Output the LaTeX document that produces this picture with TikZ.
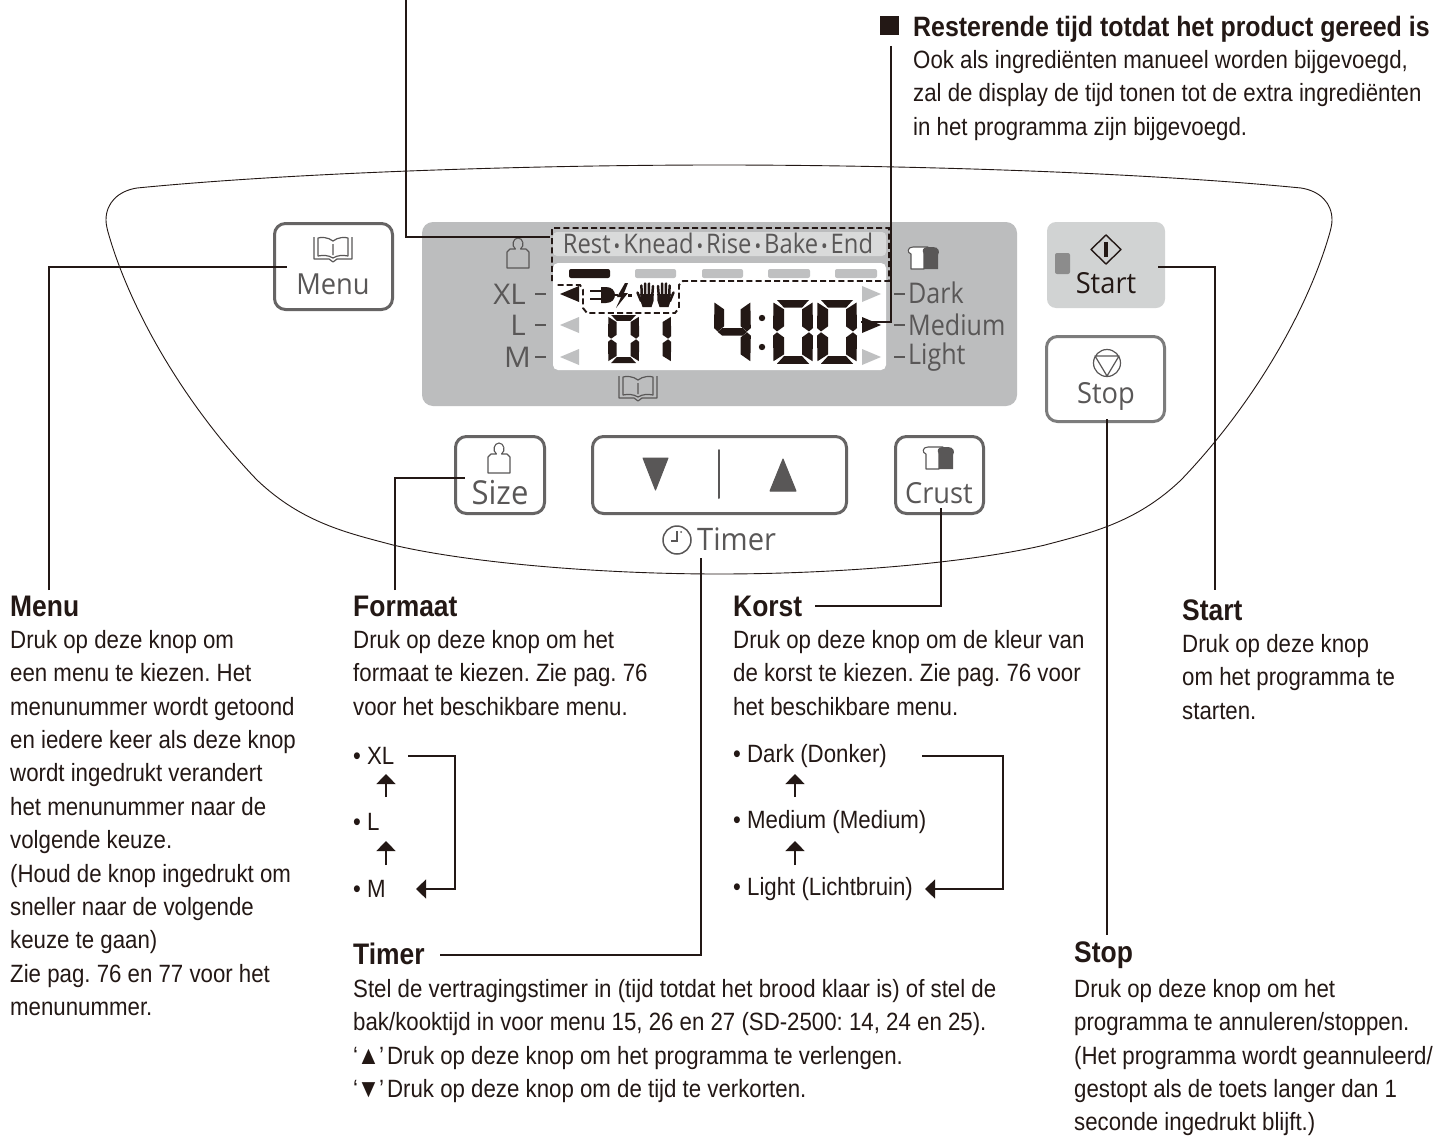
\documentclass[tikz,border=0pt]{standalone}
\usepackage{fontspec}
\setmainfont{Liberation Sans}[FakeStretch=0.89]
\newfontfamily\panelfont{Open Sans}[FakeStretch=0.88]
\newfontfamily\panelwide{Open Sans}[FakeStretch=1.04]
\newfontfamily\btnfont{Open Sans}[FakeStretch=0.94]
\usetikzlibrary{arrows.meta}
\definecolor{ink}{HTML}{231815}
\definecolor{pgray}{HTML}{BCBDBE}
\definecolor{stripgray}{HTML}{D9DADA}
\definecolor{startgray}{HTML}{D1D3D3}
\definecolor{ledgray}{HTML}{8C8C8C}
\definecolor{ptext}{HTML}{595757}
\definecolor{btn}{HTML}{666464}
\definecolor{stopbtncol}{HTML}{7C7C7C}
\definecolor{tri}{HTML}{BFC0C1}
\tikzset{
  x=1pt,y=-1pt,
  body/.style={anchor=west,inner sep=0pt,align=left,text=ink,font=\frenchspacing\fontsize{25}{33.4}\selectfont},
  head/.style={anchor=west,inner sep=0pt,text=ink,font=\fontsize{29.7}{33}\selectfont\bfseries},
  conn/.style={draw=ink,line width=1.5pt},
  button/.style={draw=btn,line width=3pt,rounded corners=11pt,fill=white,inner sep=0pt},
  ptxt/.style={inner sep=0pt,text=ptext,font=\panelfont\fontsize{28.5}{33}\selectfont},
  btxt/.style={inner sep=0pt,anchor=base,text=ptext,font=\btnfont\fontsize{29}{33}\selectfont},
  ic/.style={draw=ptext,line width=1.1pt,fill=white,line join=round},
  seg/.style={fill=ink,draw=none},
  dash1/.style={draw=ink,line width=1.9pt,dash pattern=on 6pt off 3.2pt},
  bk/.style={draw=ptext,line width=1.2pt,line join=round},
  arr/.style={conn,line width=1.3pt,-{Triangle[length=10pt,width=19pt]}},
  finger/.style={draw=ink,line width=2.5pt,line cap=round},
}
\newcommand\segT{\fill[seg] (4,0)--(36,0)--(29,9)--(11,9)--cycle;}
\newcommand\segB{\fill[seg] (4,75)--(36,75)--(29,66)--(11,66)--cycle;}
\newcommand\segUL{\fill[seg] (.5,3)--(11,11)--(11,31)--(4,37)--(0,33)--cycle;}
\newcommand\segUR{\fill[seg] (39.5,3)--(29,11)--(29,31)--(36,37)--(40,33)--cycle;}
\newcommand\segLL{\fill[seg] (.5,72)--(11,64)--(11,44)--(4,38)--(0,42)--cycle;}
\newcommand\segLR{\fill[seg] (39.5,72)--(29,64)--(29,44)--(36,38)--(40,42)--cycle;}
\newcommand\segM{\fill[seg] (4,37.5)--(9,33)--(31,33)--(36,37.5)--(31,42)--(9,42)--cycle;}
\newcommand\dgtzero{\segT\segB\segUL\segUR\segLL\segLR}
\newcommand\weighticon[3]{\begin{scope}[shift={(#1,#2)},scale=#3]
 \draw[ic,fill=none] (-11,30)--(-11,14)--(-8,11)--(-2.5,11) .. controls (-7,8) and (-5,0) .. (0,0) .. controls (5,0) and (7,8) .. (2.5,11)--(8,11)--(11,14)--(11,30)--cycle;
 \end{scope}}
\newcommand\breadicon[3]{\begin{scope}[shift={(#1,#2)},scale=#3]
 \draw[ic,fill=white] (-12,22)--(-12,7) .. controls (-16,6) and (-16,0) .. (-10,0)--(5,0)--(1,6)--(1,22)--cycle;
 \fill[ptext] (1,22)--(1,7) .. controls (-1,4) and (-1,0) .. (5,0)--(10,0) .. controls (16,0) and (17,5) .. (15,8)--(15,22)--cycle;
 \end{scope}}
\newcommand\bookicon[3]{\begin{scope}[shift={(#1,#2)},scale=#3]
 \draw[bk] (0,5) .. controls (-5,1) and (-12,1) .. (-15,2)--(-15,20) .. controls (-10,19) and (-5,19) .. (0,22) .. controls (5,19) and (10,19) .. (15,20)--(15,2) .. controls (12,1) and (5,1) .. (0,5)--cycle (0,8)--(0,19);
 \draw[bk] (-19,1)--(-19,23)--(-4,23)--(0,26)--(4,23)--(19,23)--(19,1);
 \end{scope}}
\newcommand\handicon[3]{\begin{scope}[shift={(#1,#2)},xscale=#3]
 \fill[ink] (-6.8,12)--(6.8,12)--(6.5,19)--(4.5,25)--(-4.5,25)--(-6.5,19)--cycle;
 \draw[finger] (-5.3,13)--(-6,4) (-1.8,13)--(-2,1.5) (1.8,13)--(2,1.5) (5.3,13)--(5.6,3.5) (6,19)--(9.5,10.5);
 \end{scope}}
\newcommand\gtri[1]{{\fontsize{26}{33}\selectfont #1}}
\newcommand\sbul{\hspace{3pt}{\fontsize{20}{20}\selectfont•}\hspace{3pt}}
\begin{document}
\begin{tikzpicture}
\useasboundingbox (0,0) rectangle (1435,1140);
\fill[white] (0,0) rectangle (1435,1140);
% housing
\draw[ink,line width=.9pt] (137,188) .. controls (300,172) and (540,165) .. (719,165)
  .. controls (900,165) and (1138,172) .. (1301,188)
  .. controls (1320,191) and (1332,203) .. (1332,220)
  .. controls (1332,224) and (1331,228) .. (1330,232)
  .. controls (1308,310) and (1253,405) .. (1181,480)
  .. controls (1136,523) and (1090,533) .. (1045,545)
  .. controls (968,563) and (838,574) .. (719,574)
  .. controls (600,574) and (470,563) .. (393,545)
  .. controls (348,533) and (302,523) .. (257,480)
  .. controls (185,405) and (130,310) .. (108,232)
  .. controls (107,228) and (106,224) .. (106,220)
  .. controls (106,203) and (118,191) .. (137,188) -- cycle;
% LCD panel
\fill[pgray,rounded corners=11pt] (422,222) rectangle (1017,406);
\fill[stripgray,rounded corners=4pt] (553,232) rectangle (886,256);
\fill[white,rounded corners=5pt] (553,263) rectangle (886,370);
\node[ptxt,font=\panelfont\fontsize{27}{30}\selectfont] (stages) at (718,243) {Rest\sbul Knead\sbul Rise\sbul Bake\sbul End};
\foreach \a/\b [count=\i] in {569/610,635/676,702/743,768/810,835/877}{
  \ifnum\i=1 \fill[ink,rounded corners=2pt] (\a,269) rectangle (\b,278);
  \else \fill[tri,rounded corners=2pt] (\a,269) rectangle (\b,278); \fi}
\fill[ink] (560,294)--(579,286)--(579,302)--cycle;
\fill[tri] (560,325)--(579,317)--(579,333)--cycle;
\fill[tri] (560,357)--(579,349)--(579,365)--cycle;
\fill[tri] (881,294)--(862,286)--(862,302)--cycle;
\fill[ink] (881,325)--(862,317)--(862,333)--cycle;
\fill[tri] (881,357)--(862,349)--(862,365)--cycle;
% size / crust labels
\node[ptxt,anchor=east,font=\panelwide\fontsize{28.5}{33}\selectfont] (xl) at (526,294) {XL};
\node[ptxt,anchor=east,font=\panelwide\fontsize{28.5}{33}\selectfont] (ll) at (526,325) {L};
\node[ptxt,anchor=east,font=\panelwide\fontsize{28.5}{33}\selectfont] (ml) at (531,357) {M};
\foreach \y in {294,325,357}{\draw[ptext,line width=2pt] (535,\y)--(546,\y); \draw[ptext,line width=2pt] (894,\y)--(905,\y);}
\node[ptxt,anchor=west] (dark) at (908,293) {Dark};
\node[ptxt,anchor=west] (medium) at (908,325) {Medium};
\node[ptxt,anchor=west] (light) at (908,357) {Light};
\weighticon{518}{238}{1}
\breadicon{923}{247}{1}
\bookicon{638}{375}{1}
% digits
\begin{scope}[shift={(608,315)},xscale=.78,yscale=.64]\dgtzero\end{scope}
\begin{scope}[shift={(640,315)},xscale=.78,yscale=.64]\segUR\segLR\end{scope}
\begin{scope}[shift={(714,300)},xscale=.92,yscale=.85]\segUL\segUR\segLR\segM\end{scope}
\fill[ink] (762,318) circle (3.2) (762,347) circle (3.2);
\begin{scope}[shift={(773,300)},xscale=1,yscale=.85]\dgtzero\end{scope}
\begin{scope}[shift={(817,300)},xscale=1,yscale=.85]\dgtzero\end{scope}
% icons in LCD
\fill[ink] (601,287)--(606,287) .. controls (612,287) and (615,291) .. (615,295) .. controls (615,299) and (612,303) .. (606,303)--(601,303)--cycle;
\fill[ink] (614,294) rectangle (618,296);
\draw[ink,line width=1.6pt] (590,291)--(602,291) (590,299)--(602,299);
\fill[ink] (625,283)--(617,297)--(621,297)--(616,308)--(628,293)--(624,293)--(628,283)--cycle;
\fill[ink] (628,294) rectangle (632,296.5);
\handicon{647}{282}{-1}
\handicon{664}{282}{1}
% dashed outline
\draw[dash1] (552,281)--(552,228)--(889,228)--(889,281)--(683,281)--(679,285)--(679,308)--(675,313)--(587,313)--(583,308)--(583,290)--(580,285)--(555,285);
% buttons
\node[button,minimum width=118pt,minimum height=86pt] (menubtn) at (333.5,266.5) {};
\node[btxt] (menulab) at (333,294) {Menu};
\bookicon{333}{236}{1}
\fill[startgray,rounded corners=9pt] (1047,222) rectangle (1165,308);
\coordinate (startbtn) at (1158,267);
\fill[ledgray,rounded corners=2pt] (1055,253) rectangle (1070,274);
\draw[ink,line width=1.4pt,line join=round] (1106,235)--(1121,249.5)--(1106,264)--(1091,249.5)--cycle;
\fill[ink] (1104,242) rectangle (1108,257);
\node[btxt,text=ink] (startlab) at (1106,293) {Start};
\node[button,draw=stopbtncol,minimum width=118pt,minimum height=85pt] (stopbtn) at (1105.5,379) {};
\draw[ptext,line width=1.2pt,line join=round] (1107,363) circle (13.5) (1095,356)--(1119,356)--(1107,376)--cycle;
\node[btxt] (stoplab) at (1106,403) {Stop};
\node[button,minimum width=89pt,minimum height=77pt] (sizebtn) at (500,475) {};
\weighticon{499}{443}{1}
\node[btxt,font=\btnfont\fontsize{33}{33}\selectfont] (sizelab) at (500,504) {Size};
\node[button,minimum width=254pt,minimum height=77pt] (timerbtn) at (719.5,475) {};
\fill[ptext,line join=round,draw=ptext,line width=1pt] (643,458)--(668,458)--(655.5,490)--cycle (770,491)--(796,491)--(783,459)--cycle;
\draw[ptext,line width=2pt,line cap=round] (719,450)--(719,498);
\node[button,minimum width=88pt,minimum height=77pt] (crustbtn) at (939.5,475) {};
\breadicon{938}{447}{1}
\node[btxt] (crustlab) at (939,503) {Crust};
\draw[ptext,line width=1.5pt] (677,540) circle (14);
\draw[ptext,line width=1.5pt] (671,541)--(677,541)--(677,531);
\fill[ptext] (681,532) circle (1);
\node[btxt,anchor=base west,font=\btnfont\fontsize{31}{33}\selectfont] (timerlab) at (697,550) {Timer};
% top right text
\fill[ink] (880,16) rectangle (899,35);
\node[head,font=\fontsize{28}{33}\selectfont\bfseries] (resthead) at (913,29) {Resterende tijd totdat het product gereed is};
\node[body,anchor=north west] (restbody) at (913,50) {Ook als ingrediënten manueel worden bijgevoegd,\\zal de display de tijd tonen tot de extra ingrediënten\\in het programma zijn bijgevoegd.};
% section heads
\node[head] (hmenu) at (10,606) {Menu};
\node[head] (hformaat) at (353,606) {Formaat};
\node[head] (hkorst) at (733,606) {Korst};
\node[head] (hstart) at (1182,610) {Start};
\node[head] (htimer) at (353,954) {Timer};
\node[head] (hstop) at (1074,955) {Stop};
% bodies
\node[body,anchor=north west] (bmenu) at (10,630) {Druk op deze knop om\\een menu te kiezen. Het\\menunummer wordt getoond\\en iedere keer als deze knop\\wordt ingedrukt verandert\\het menunummer naar de\\volgende keuze.\\(Houd de knop ingedrukt om\\sneller naar de volgende\\keuze te gaan)\\Zie pag. 76 en 77 voor het\\menunummer.};
\node[body,anchor=north west] (bformaat) at (353,630) {Druk op deze knop om het\\formaat te kiezen. Zie pag. 76\\voor het beschikbare menu.};
\node[body,anchor=north west] (bkorst) at (733,630) {Druk op deze knop om de kleur van\\de korst te kiezen. Zie pag. 76 voor\\het beschikbare menu.};
\node[body,anchor=north west] (bstart) at (1182,634) {Druk op deze knop\\om het programma te\\starten.};
\node[body,anchor=north west] (btimer) at (353,979) {Stel de vertragingstimer in (tijd totdat het brood klaar is) of stel de\\bak/kooktijd in voor menu 15, 26 en 27 (SD-2500: 14, 24 en 25).\\‘\hspace{-1pt}\gtri{▲}\hspace{-1pt}’\hspace{-3pt} Druk op deze knop om het programma te verlengen.\\‘\hspace{-1pt}\gtri{▼}\hspace{-1pt}’\hspace{-3pt} Druk op deze knop om de tijd te verkorten.};
\node[body,anchor=north west] (bstop) at (1074,979) {Druk op deze knop om het\\programma te annuleren/stoppen.\\(Het programma wordt geannuleerd/\\gestopt als de toets langer dan 1\\seconde ingedrukt blijft.)};
% lists
\node[body] (lxl) at (353,756) {• XL};
\node[body] (ll2) at (353,822) {• L};
\node[body] (lm) at (353,889) {• M};
\node[body] (ldark) at (733,756) {• Dark (Donker)};
\node[body] (lmed) at (733,822) {• Medium (Medium)};
\node[body] (llight) at (733,889) {• Light (Lichtbruin)};
\coordinate (a1s) at (386,797); \coordinate (a1e) at (386,774);
\coordinate (a2s) at (386,865); \coordinate (a2e) at (386,841);
\coordinate (a3s) at (795,797); \coordinate (a3e) at (795,774);
\coordinate (a4s) at (795,865); \coordinate (a4e) at (795,841);
\draw[arr] (a1s)--(a1e); \draw[arr] (a2s)--(a2e); \draw[arr] (a3s)--(a3e); \draw[arr] (a4s)--(a4e);
\coordinate (b1s) at (408,756); \coordinate (b1e) at (416,889);
\coordinate (b2s) at (922,756); \coordinate (b2e) at (925,889);
\draw[arr] (b1s)--(455,756)--(455,889)--(b1e);
\draw[arr] (b2s)--(1003,756)--(1003,889)--(b2e);
% connectors
\coordinate (topl) at (406,0);
\coordinate (dashl) at (550,237);
\coordinate (topr) at (891,46);
\coordinate (dig) at (861,322);
\draw[conn] (topl)|-(dashl);
\draw[conn] (topr)|-(dig);
\coordinate (menuin) at (287,267);
\coordinate (menuc) at (49,590);
\draw[conn] (menuc)|-(menuin);
\coordinate (sizein) at (465,478);
\coordinate (sizec) at (395,590);
\draw[conn] (sizec)|-(sizein);
\coordinate (crustin) at (941,508);
\coordinate (korstc) at (815,606);
\draw[conn] (crustin)|-(korstc);
\coordinate (timerin) at (701,558);
\coordinate (timerc) at (440,955);
\draw[conn] (timerin)|-(timerc);
\coordinate (startc) at (1215,590);
\draw[conn] (startbtn)-|(startc);
\coordinate (stopin) at (1107,419);
\coordinate (stopc) at (1107,935);
\draw[conn] (stopin)--(stopc);
\end{tikzpicture}
\end{document}
